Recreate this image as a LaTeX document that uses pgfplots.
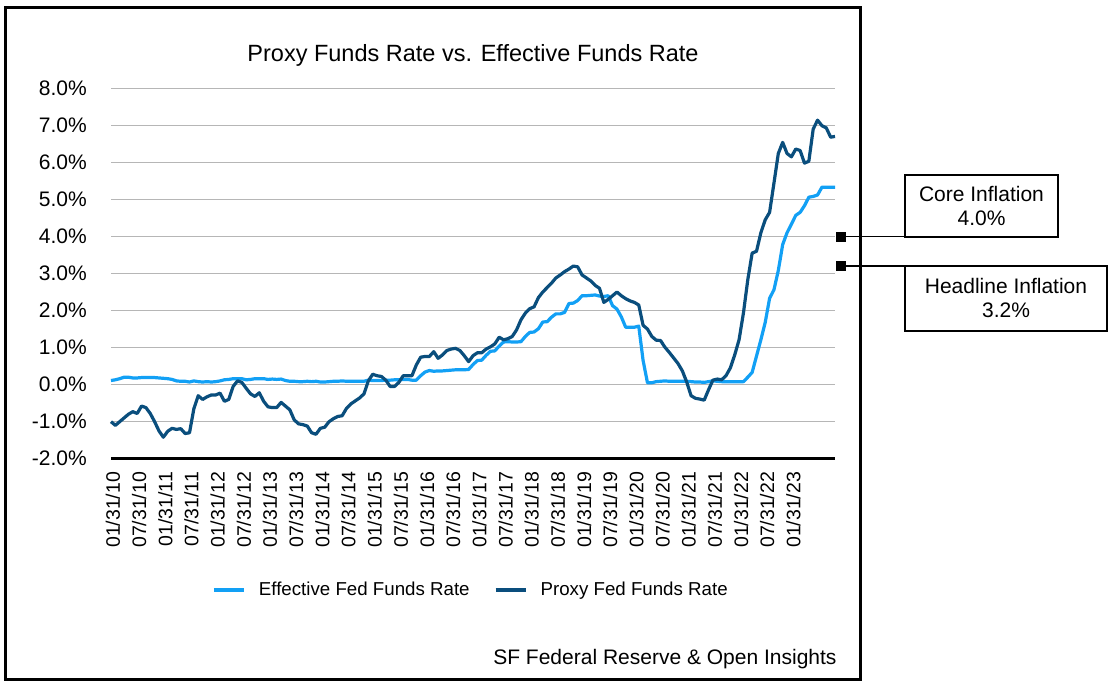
\documentclass[border=0pt]{standalone}
\usepackage{fontspec}
\setmainfont{Liberation Sans}
\usepackage{pgfplots}
\usepackage{pgfplotstable}
\pgfplotsset{compat=1.18}

\definecolor{effblue}{RGB}{18,160,245}
\definecolor{proxyblue}{RGB}{10,78,125}
\definecolor{gridgray}{RGB}{182,182,182}

% monthly, index 0 = 01/31/10
\pgfplotstableread{
i eff proxy
0 0.11 -1.00
1 0.13 -1.10
2 0.16 -1.00
3 0.20 -0.90
4 0.20 -0.80
5 0.18 -0.73
6 0.18 -0.78
7 0.19 -0.58
8 0.19 -0.62
9 0.19 -0.78
10 0.19 -1.00
11 0.18 -1.25
12 0.17 -1.42
13 0.16 -1.26
14 0.14 -1.18
15 0.10 -1.21
16 0.09 -1.19
17 0.09 -1.32
18 0.07 -1.30
19 0.10 -0.65
20 0.08 -0.30
21 0.07 -0.40
22 0.08 -0.33
23 0.07 -0.28
24 0.08 -0.28
25 0.10 -0.23
26 0.13 -0.45
27 0.14 -0.40
28 0.16 -0.05
29 0.16 0.10
30 0.16 0.06
31 0.13 -0.10
32 0.14 -0.25
33 0.16 -0.32
34 0.16 -0.22
35 0.16 -0.45
36 0.14 -0.60
37 0.15 -0.62
38 0.14 -0.62
39 0.15 -0.48
40 0.11 -0.58
41 0.09 -0.68
42 0.09 -0.95
43 0.08 -1.06
44 0.08 -1.08
45 0.09 -1.12
46 0.08 -1.30
47 0.09 -1.34
48 0.07 -1.18
49 0.07 -1.15
50 0.08 -1.00
51 0.09 -0.92
52 0.09 -0.86
53 0.10 -0.84
54 0.09 -0.64
55 0.09 -0.52
56 0.09 -0.44
57 0.09 -0.36
58 0.09 -0.25
59 0.12 0.10
60 0.11 0.28
61 0.11 0.24
62 0.11 0.22
63 0.12 0.12
64 0.12 -0.05
65 0.13 -0.05
66 0.13 0.06
67 0.14 0.24
68 0.14 0.24
69 0.12 0.24
70 0.12 0.53
71 0.24 0.74
72 0.34 0.76
73 0.38 0.76
74 0.36 0.89
75 0.37 0.71
76 0.37 0.80
77 0.38 0.92
78 0.39 0.96
79 0.40 0.98
80 0.40 0.92
81 0.40 0.78
82 0.41 0.62
83 0.54 0.78
84 0.65 0.86
85 0.66 0.86
86 0.79 0.96
87 0.90 1.02
88 0.91 1.10
89 1.04 1.28
90 1.15 1.21
91 1.16 1.24
92 1.15 1.30
93 1.15 1.48
94 1.16 1.75
95 1.30 1.93
96 1.41 2.05
97 1.42 2.10
98 1.51 2.35
99 1.69 2.50
100 1.70 2.62
101 1.82 2.74
102 1.91 2.88
103 1.91 2.96
104 1.95 3.05
105 2.19 3.12
106 2.20 3.20
107 2.27 3.18
108 2.40 2.96
109 2.40 2.88
110 2.41 2.80
111 2.42 2.68
112 2.39 2.60
113 2.38 2.22
114 2.40 2.30
115 2.13 2.40
116 2.04 2.50
117 1.83 2.40
118 1.55 2.32
119 1.55 2.26
120 1.55 2.22
121 1.58 2.15
122 0.65 1.60
123 0.05 1.50
124 0.05 1.30
125 0.08 1.20
126 0.09 1.19
127 0.10 1.01
128 0.09 0.87
129 0.09 0.72
130 0.09 0.57
131 0.09 0.37
132 0.09 0.07
133 0.08 -0.30
134 0.07 -0.37
135 0.07 -0.39
136 0.06 -0.42
137 0.08 -0.14
138 0.10 0.12
139 0.09 0.15
140 0.08 0.13
141 0.08 0.24
142 0.08 0.45
143 0.08 0.80
144 0.08 1.21
145 0.08 1.93
146 0.20 2.83
147 0.33 3.55
148 0.77 3.60
149 1.21 4.10
150 1.68 4.45
151 2.33 4.65
152 2.56 5.44
153 3.08 6.24
154 3.78 6.54
155 4.10 6.24
156 4.33 6.15
157 4.57 6.36
158 4.65 6.32
159 4.83 5.98
160 5.06 6.03
161 5.08 6.90
162 5.12 7.14
163 5.33 6.99
164 5.33 6.93
165 5.33 6.68
166 5.33 6.70
}\ratedata

\begin{document}
\begin{tikzpicture}[x=1bp,y=1bp]
\path[use as bounding box] (0,0) rectangle (1112,688);
\draw[line width=3bp] (5,8) rectangle (860,680);

\begin{axis}[
  at={(111bp,229.3bp)}, anchor=south west,
  scale only axis, width=724bp, height=370.4bp,
  xmin=0, xmax=166, ymin=-2, ymax=8,
  ytick={-2,-1,...,8},
  xtick={0,6,...,156},
  xticklabels={01/31/10,07/31/10,01/31/11,07/31/11,01/31/12,07/31/12,01/31/13,07/31/13,01/31/14,07/31/14,01/31/15,07/31/15,01/31/16,07/31/16,01/31/17,07/31/17,01/31/18,07/31/18,01/31/19,07/31/19,01/31/20,07/31/20,01/31/21,07/31/21,01/31/22,07/31/22,01/31/23},
  ymajorgrids, grid style={gridgray, line width=1.3bp},
  axis line style={draw=none},
  major tick length=0pt, tick style={draw=none},
  /pgf/number format/assume math mode=true,
  yticklabel={\pgfmathprintnumber[fixed,fixed zerofill,precision=1]{\tick}\%},
  yticklabel style={font=\fontsize{21bp}{25bp}\selectfont, anchor=east, inner sep=0pt, xshift=-24bp},
  xticklabel style={font=\fontsize{19.5bp}{23bp}\selectfont, yshift=-13bp, xshift=2bp, rotate=90, anchor=east, inner sep=0pt},
  clip=false,
  legend columns=2,
  legend style={at={(0.497,-0.354)}, anchor=center, draw=none, fill=none,
    font=\fontsize{18.7bp}{23bp}\selectfont,
    /tikz/every odd column/.append style={column sep=11bp},
    /tikz/every even column/.append style={column sep=22bp}},
  legend image code/.code={\draw[#1, line width=4bp] (0bp,0bp) -- (30bp,0bp);},
]
\draw[line width=3bp] (rel axis cs:0,0) -- (rel axis cs:1,0);
\addplot[effblue, line width=3.2bp, line join=round] table[x=i,y=eff]{\ratedata};
\addlegendentry{Effective Fed Funds Rate}
\addplot[proxyblue, line width=3.2bp, line join=round] table[x=i,y=proxy]{\ratedata};
\addlegendentry{Proxy Fed Funds Rate}
\addplot[only marks, mark=square*, mark size=4.5bp, black, forget plot] coordinates {(167.3,4.0) (167.3,3.2)};
\coordinate (core) at (axis cs:167.3,4.0);
\coordinate (head) at (axis cs:167.3,3.2);
\end{axis}

\node[font=\fontsize{23.5bp}{28bp}\selectfont] at (473,633) {Proxy Funds Rate vs. Effective Funds Rate};
\node[font=\fontsize{21bp}{25bp}\selectfont, anchor=east] at (840,29) {SF Federal Reserve \& Open Insights};

\draw[line width=1.8bp] (core) -- (core -| 905,0);
\draw[line width=1.8bp] (head) -- (head -| 905,0);
\draw[line width=1.8bp] (905,451.3) rectangle (1058,513);
\draw[line width=1.8bp] (905,357) rectangle (1107,421.7);
\node[font=\fontsize{21bp}{24bp}\selectfont, align=center] at (981.5,482) {Core Inflation\\4.0\%};
\node[font=\fontsize{21bp}{24bp}\selectfont, align=center] at (1006,390) {Headline Inflation\\3.2\%};
\end{tikzpicture}
\end{document}
